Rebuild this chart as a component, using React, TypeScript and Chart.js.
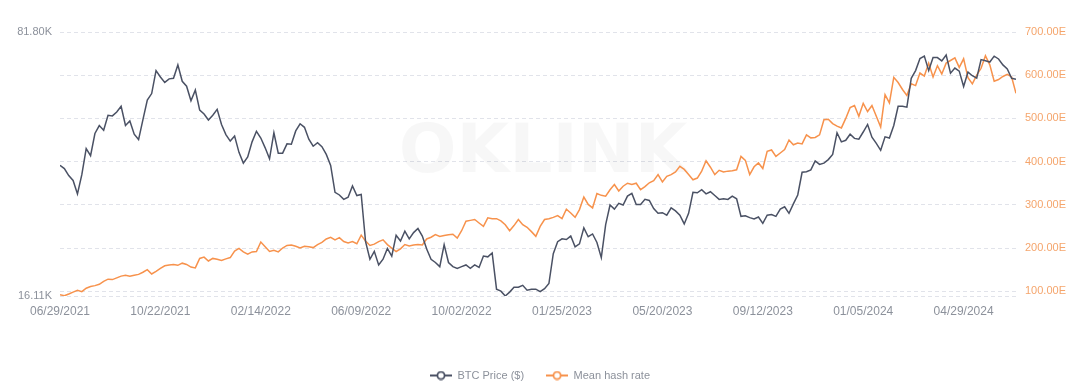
import { useEffect, useRef } from "react";
import { Chart, registerables } from "chart.js";

Chart.register(...registerables);

// Data sampled every 5 days starting 06/29/2021
const START_DATE = Date.UTC(2021, 5, 29);
const STEP_DAYS = 5;
const END_DAY = 1095;
const TICK_DAYS = [0, 115, 230, 345, 460, 575, 690, 805, 920, 1035];

// BTC price in thousands of USD
const btcPrice = [
  36.0, 35.3, 33.8, 32.8, 30.2, 34.0, 39.9, 38.2, 43.8, 46.0,
  44.7, 49.0, 48.8, 50.0, 51.8, 46.0, 47.3, 43.6, 42.2, 47.7,
  53.8, 56.0, 64.5, 62.0, 60.0, 61.3, 61.5, 66.8, 60.4, 58.6,
  53.6, 57.2, 50.6, 49.4, 47.6, 49.0, 50.8, 46.3, 43.5, 41.8,
  43.1, 39.0, 36.5, 37.9, 41.6, 44.4, 42.6, 40.1, 37.5, 44.0,
  38.8, 38.8, 41.1, 41.0, 44.5, 46.5, 45.5, 42.3, 40.5, 41.4,
  40.4, 38.5, 36.0, 30.5, 30.0, 29.2, 29.6, 31.7, 29.9, 30.1,
  22.5, 20.2, 21.2, 19.5, 20.2, 21.6, 20.6, 23.4, 22.6, 24.0,
  22.9, 23.8, 24.4, 23.3, 21.5, 20.2, 19.8, 19.3, 22.1, 19.8,
  19.3, 19.1, 19.3, 19.5, 19.1, 19.5, 19.2, 20.6, 20.5, 21.0,
  16.8, 16.6, 16.11, 16.5, 17.0, 17.0, 17.2, 16.7, 16.8, 16.8,
  16.55, 16.85, 17.4, 20.9, 22.5, 22.9, 22.8, 23.3, 21.8, 22.2,
  24.5, 23.2, 23.6, 22.4, 20.4, 25.0, 28.2, 27.5, 28.5, 28.2,
  29.8, 30.3, 28.3, 28.3, 29.2, 29.0, 27.6, 26.8, 26.9, 26.5,
  27.7, 27.2, 26.5, 25.1, 26.8, 30.5, 30.4, 31.0, 30.2, 30.6,
  29.9, 29.2, 29.3, 29.2, 29.8, 29.3, 26.3, 26.4, 26.1, 25.9,
  26.2, 25.2, 26.5, 26.6, 26.3, 27.5, 27.9, 26.8, 28.4, 30.0,
  34.5, 34.6, 35.0, 37.0, 36.2, 36.5, 37.3, 38.5, 44.0, 41.6,
  42.0, 43.6, 42.5, 42.3, 44.2, 46.3, 42.8, 41.2, 39.5, 42.9,
  42.6, 46.0, 51.8, 51.8, 51.5, 61.5, 64.5, 69.5, 70.5, 64.5,
  69.9, 69.9, 68.5, 71.0, 63.5, 65.5, 64.3, 58.5, 63.9, 62.5,
  61.6, 69.0, 68.5, 68.0, 70.5, 69.3, 66.8, 65.2, 61.5, 61.2,
];

// Mean hash rate in EH/s
const hashRate = [
  92, 89.5, 93.5, 98, 102, 99, 107, 111, 113, 116,
  123, 128, 127, 131, 135, 137, 135, 137, 139, 144,
  150, 140, 146, 153, 159, 161, 162, 160, 165, 162,
  156, 154, 176, 179, 170, 176, 174, 171, 175, 178,
  193, 199, 191, 186, 191, 192, 214, 203, 192, 195,
  191, 200, 206, 207, 204, 200, 204, 203, 201, 208,
  213, 221, 225, 219, 224, 215, 212, 215, 210, 230,
  216, 206, 209, 215, 219, 208, 200, 192, 198, 208,
  205, 207, 208, 207, 221, 225, 231, 227, 229, 231,
  232, 223, 240, 262, 264, 266, 258, 250, 270, 268,
  268, 263, 254, 240, 252, 266, 254, 248, 238, 227,
  250, 266, 268, 271, 275, 268, 290, 281, 271, 289,
  318, 301, 293, 326, 322, 320, 335, 347, 332, 343,
  350, 347, 350, 335, 342, 351, 356, 370, 353, 366,
  370, 376, 389, 382, 370, 358, 362, 378, 402, 387,
  370, 380, 376, 378, 379, 381, 412, 403, 370, 388,
  397, 384, 424, 427, 412, 420, 428, 450, 439, 443,
  441, 462, 455, 456, 462, 497, 498, 488, 482, 478,
  500, 525, 530, 505, 535, 516, 530, 505, 480, 555,
  536, 595, 583, 567, 553, 580, 576, 605, 598, 628,
  596, 622, 603, 628, 634, 640, 618, 638, 594, 580,
  600, 616, 645, 624, 586, 590, 597, 602, 596, 558,
];

const LEFT_TICKS = [16.11, 81.8];
const RIGHT_TICKS = [100, 200, 300, 400, 500, 600, 700];
const SERIES_NAMES = ["BTC Price ($)", "Mean hash rate"];
const BTC_COLOR = "#4a5164";
const HASH_COLOR = "#f7924c";
const AXIS_TEXT = "#8c919b";
const RIGHT_TEXT = "#f5a56c";
const GRID_COLOR = "#e1e3ea";
const FONT = "'Liberation Sans', Arial, sans-serif";

function fmtDate(day: number): string {
  const d = new Date(START_DATE + day * 86400000);
  const mm = String(d.getUTCMonth() + 1).padStart(2, "0");
  const dd = String(d.getUTCDate()).padStart(2, "0");
  return `${mm}/${dd}/${d.getUTCFullYear()}`;
}

function legendIcon(color: string): HTMLCanvasElement {
  const c = document.createElement("canvas");
  c.width = 22;
  c.height = 10;
  const ctx = c.getContext("2d")!;
  ctx.strokeStyle = color;
  ctx.lineWidth = 2;
  ctx.beginPath();
  ctx.moveTo(0, 5);
  ctx.lineTo(22, 5);
  ctx.stroke();
  ctx.beginPath();
  ctx.arc(11, 5, 3.6, 0, Math.PI * 2);
  ctx.fillStyle = "#ffffff";
  ctx.fill();
  ctx.lineWidth = 1.8;
  ctx.stroke();
  return c;
}

const watermark = {
  id: "watermark",
  beforeDatasetsDraw(chart: any) {
    const ctx = chart.ctx;
    ctx.save();
    ctx.font = `bold 68px 'DejaVu Sans', sans-serif`;
    ctx.fillStyle = "rgba(0,0,0,0.03)";
    ctx.textAlign = "center";
    ctx.textBaseline = "middle";
    ctx.fillText("OKLINK", 543, 154);
    ctx.restore();
  },
};

export default function App() {
  const ref = useRef<HTMLCanvasElement | null>(null);

  useEffect(() => {
    document.body.style.margin = "0";
    const icons = [legendIcon(BTC_COLOR), legendIcon(HASH_COLOR)];
    const btcData = btcPrice.map((v, i) => ({ x: i * STEP_DAYS, y: v }));
    const hashData = hashRate.map((v, i) => ({ x: i * STEP_DAYS, y: v }));

    const chart = new Chart(ref.current!, {
      type: "line",
      data: {
        datasets: [
          {
            label: SERIES_NAMES[0],
            data: btcData,
            yAxisID: "y",
            borderColor: BTC_COLOR,
            backgroundColor: BTC_COLOR,
            borderWidth: 1.5,
            pointRadius: 0,
            tension: 0,
          },
          {
            label: SERIES_NAMES[1],
            data: hashData,
            yAxisID: "y1",
            borderColor: HASH_COLOR,
            backgroundColor: HASH_COLOR,
            borderWidth: 1.5,
            pointRadius: 0,
            tension: 0,
          },
        ],
      },
      options: {
        responsive: false,
        animation: false,
        layout: { padding: { top: 32, left: 0, right: 0, bottom: 0 } },
        font: { family: FONT },
        plugins: {
          tooltip: { enabled: false },
          legend: {
            position: "bottom",
            labels: {
              usePointStyle: true,
              pointStyleWidth: 22,
              boxHeight: 10,
              padding: 22,
              color: AXIS_TEXT,
              font: { size: 11, family: FONT },
              generateLabels(ch: any) {
                const items = (Chart as any).defaults.plugins.legend.labels.generateLabels(ch);
                return items.map((it: any, i: number) => ({ ...it, pointStyle: icons[i], fontColor: AXIS_TEXT }));
              },
            },
          },
        },
        scales: {
          x: {
            type: "linear",
            min: 0,
            max: END_DAY,
            grid: { display: false, drawTicks: false },
            border: { display: false },
            afterBuildTicks(scale: any) {
              scale.ticks = TICK_DAYS.map((v) => ({ value: v }));
            },
            afterFit(scale: any) {
              scale.height = 52;
            },
            ticks: {
              autoSkip: false,
              maxRotation: 0,
              padding: 8,
              color: AXIS_TEXT,
              font: { size: 12, family: FONT },
              callback: (v: any) => fmtDate(Number(v)),
            },
          },
          y: {
            type: "logarithmic",
            position: "left",
            min: LEFT_TICKS[0],
            max: LEFT_TICKS[1],
            grid: { color: GRID_COLOR, drawTicks: false, lineWidth: 1 },
            border: { display: false, dash: [4, 3] },
            afterBuildTicks(scale: any) {
              scale.ticks = LEFT_TICKS.map((v) => ({ value: v }));
            },
            afterFit(scale: any) {
              scale.width = 60;
            },
            ticks: {
              padding: 8,
              color: AXIS_TEXT,
              font: { size: 11, family: FONT },
              callback: (v: any) => Number(v).toFixed(2) + "K",
            },
          },
          y1: {
            type: "linear",
            position: "right",
            min: 89,
            max: 700,
            grid: { color: GRID_COLOR, drawTicks: false, lineWidth: 1 },
            border: { display: false, dash: [4, 3] },
            afterBuildTicks(scale: any) {
              scale.ticks = RIGHT_TICKS.map((v) => ({ value: v }));
            },
            afterFit(scale: any) {
              scale.width = 64;
            },
            ticks: {
              padding: 9,
              color: RIGHT_TEXT,
              font: { size: 11, family: FONT },
              callback: (v: any) => Number(v).toFixed(2) + "E",
            },
          },
        },
      },
      plugins: [watermark],
    } as any);

    return () => chart.destroy();
  }, []);

  return (
    <div style={{ width: 1080, height: 391, position: "relative", background: "#ffffff" }}>
      <canvas ref={ref} width={1080} height={391} style={{ display: "block" }} />
    </div>
  );
}
